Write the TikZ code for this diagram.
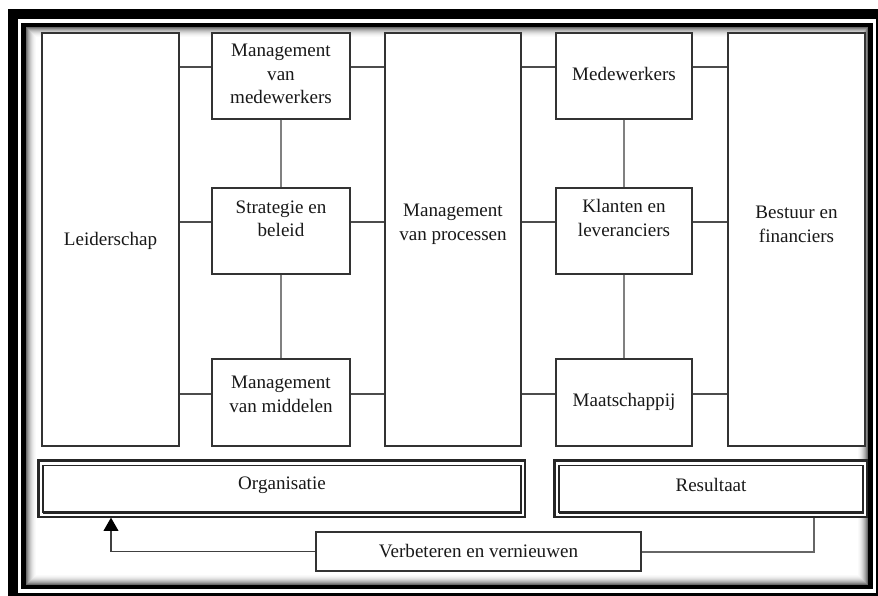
\documentclass[tikz,border=0pt]{standalone}
\usepackage{fontspec}
\setmainfont{Liberation Serif}
\usetikzlibrary{arrows.meta}
\begin{document}
\begin{tikzpicture}[x=0.75pt,y=-0.75pt,
  sz/.style 2 args={minimum width=#1*0.75pt, minimum height=#2*0.75pt},
  box/.style={draw=black!80, line width=1.1pt, fill=white, inner sep=0pt},
  txt/.style={font=\fontsize{14.3}{17.6}\selectfont, align=center, inner sep=0pt, text=black!90},
  conn/.style={draw=black!70, line width=1.4pt},
  vconn/.style={draw=black!50, line width=1.5pt},
  frameline/.style={draw=black!85, line width=0.9pt}]

% page and frame
\useasboundingbox (0,0) rectangle (878,596);
\clip (0,0) rectangle (878,596);
\fill[white] (0,0) rectangle (878,596);
\draw[line width=7.5pt] (13,14) rectangle (881,598);
\draw[line width=3.4pt] (23.5,25) rectangle (870.5,587);
\foreach \i/\c in {1/58,2/47,3/37,4/29,5/22,6/16,7/11,8/7,9/4,10/2}
  \draw[line width=0.8pt, black!\c] (25.75+\i-0.5, 27.25+\i-0.5) rectangle (868.25-\i+0.5, 584.75-\i+0.5);

% row heights of the horizontal connectors
\coordinate (r1) at (0,67);
\coordinate (r2) at (0,222);
\coordinate (r3) at (0,394);

% columns of boxes
\node[box, sz={137}{413}] (lead) at (110.5,239.5) {};
\node[box, sz={138}{86}]  (mvm)  at (281,76) {};
\node[box, sz={138}{86}]  (strat) at (281,231) {};
\node[box, sz={138}{87}]  (mid)  at (281,402.5) {};
\node[box, sz={136}{413}] (proc) at (453,239.5) {};
\node[box, sz={136}{86}]  (medw) at (624,76) {};
\node[box, sz={136}{86}]  (klant) at (624,231) {};
\node[box, sz={136}{87}]  (maat) at (624,402.5) {};
\node[box, sz={137}{413}] (best) at (796.5,239.5) {};

% labels
\node[txt] (leadT)  at (110.5,241) {Leiderschap};
\node[txt] (mvmT)   at (281,74) {Management\\van\\medewerkers};
\node[txt] (stratT) at (281,219) {Strategie en\\beleid};
\node[txt] (midT)   at (281,394.5) {Management\\van middelen};
\node[txt] (procT)  at (453,224.5) {Management\\van processen};
\node[txt] (medwT)  at (624,74) {Medewerkers};
\node[txt] (klantT) at (624,218) {Klanten en\\leveranciers};
\node[txt] (maatT)  at (624,402) {Maatschappij};
\node[txt] (bestT)  at (796.5,224.5) {Bestuur en\\financiers};

% horizontal connectors
\draw[conn] (lead.east |- r1) -- (mvm.west |- r1);
\draw[conn] (mvm.east |- r1) -- (proc.west |- r1);
\draw[conn] (proc.east |- r1) -- (medw.west |- r1);
\draw[conn] (medw.east |- r1) -- (best.west |- r1);
\draw[conn] (lead.east |- r2) -- (strat.west |- r2);
\draw[conn] (strat.east |- r2) -- (proc.west |- r2);
\draw[conn] (proc.east |- r2) -- (klant.west |- r2);
\draw[conn] (klant.east |- r2) -- (best.west |- r2);
\draw[conn] (lead.east |- r3) -- (mid.west |- r3);
\draw[conn] (mid.east |- r3) -- (proc.west |- r3);
\draw[conn] (proc.east |- r3) -- (maat.west |- r3);
\draw[conn] (maat.east |- r3) -- (best.west |- r3);

% vertical connectors
\draw[vconn] (mvm.south) -- (strat.north);
\draw[vconn] (strat.south) -- (mid.north);
\draw[vconn] (medw.south) -- (klant.north);
\draw[vconn] (klant.south) -- (maat.north);

% double bordered boxes
\node[frameline, fill=white, inner sep=0pt, sz={486}{56}] (org) at (282,489) {};
\node[frameline, fill=white, inner sep=0pt, sz={312}{56}] (res) at (711,489) {};
\foreach \n in {org,res} {
  \draw[line width=2pt, black!85] (\n.south west) -- (\n.north west) -- (\n.north east);
  \draw[frameline] ([shift={(4.5,5)}]\n.north west) rectangle ([shift={(-4.5,-5)}]\n.south east);
  \draw[line width=2pt, black!85] ([shift={(-4.5,5)}]\n.north east) -- ([shift={(-4.5,-5)}]\n.south east) -- ([shift={(4.5,-5)}]\n.south west);
}
\node[txt] (orgT) at (282,485) {Organisatie};
\node[txt] (resT) at (711,485) {Resultaat};

% feedback loop
\node[box, sz={325}{39}] (verb) at (478.5,551.5) {};
\node[txt] (verbT) at (478.5,551) {Verbeteren en vernieuwen};
\coordinate (ax) at (111,0);
\coordinate (bx) at (814,0);
\draw[draw=black!75, line width=1.4pt, -{Triangle[width=11pt,length=10pt,fill=black,color=black]}] (verb.west) -| (ax |- org.south);
\draw[draw=black!60, line width=1.5pt] (bx |- res.south) |- (verb.east);
\end{tikzpicture}
\end{document}
